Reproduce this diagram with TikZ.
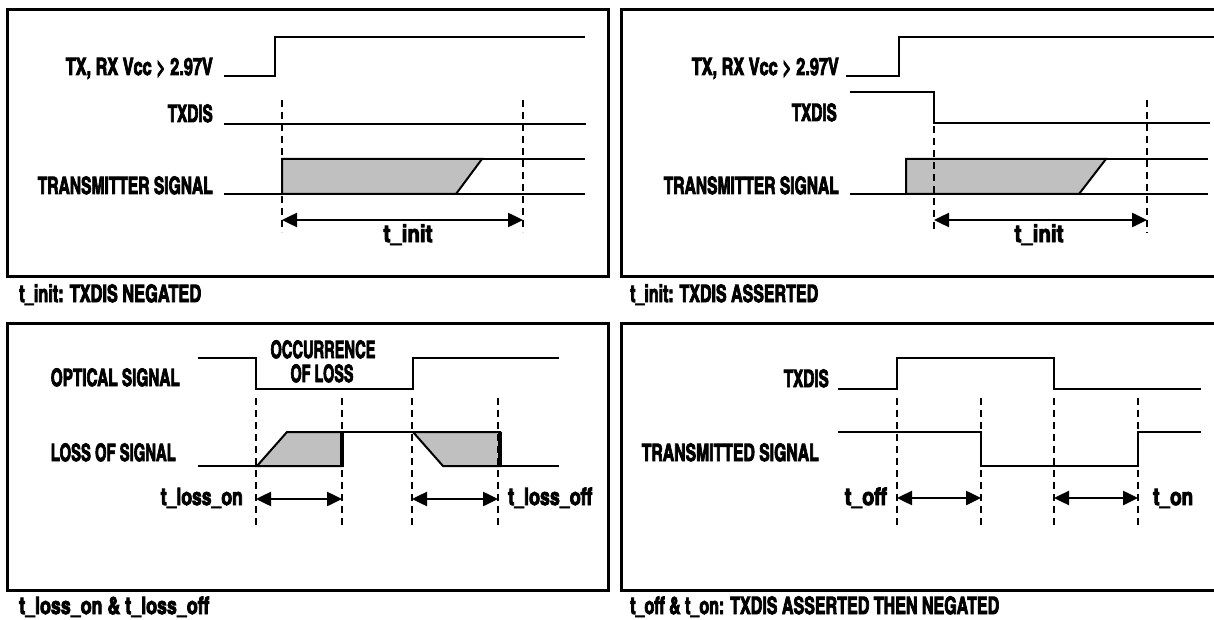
\documentclass[tikz,border=0pt]{standalone}
\usepackage{fontspec}
\usepackage{graphicx}
\newfontfamily\lbl{texgyreheroscn}[Extension=.otf, UprightFont=*-bold, BoldFont=*-bold, FakeBold=3.5]
\newcommand\fw[2]{\resizebox{#1pt}{\height}{#2}}
\usetikzlibrary{arrows.meta}
\definecolor{shade}{HTML}{C0C0C0}
\tikzset{
  frame/.style={line width=3pt},
  sig/.style={line width=2pt, line join=miter},
  dash line/.style={line width=1.6pt, dash pattern=on 7pt off 5pt},
  meas/.style={line width=2.5pt, {Triangle[length=15pt,width=14pt]}-{Triangle[length=15pt,width=14pt]}},
  region/.style={fill=shade, draw, line width=2pt, line join=miter},
  thickv/.style={line width=3.5pt},
  txt/.style={inner sep=0pt, font=\lbl\fontsize{24}{28}\selectfont},
}
\begin{document}
\begin{tikzpicture}[x=1pt,y=-1pt]
\useasboundingbox (0,0) rectangle (1214,620);
% frames
\draw[frame] (7,10) rectangle (608,276);
\draw[frame] (621,10) rectangle (1222,276);
\draw[frame] (7,323) rectangle (608,590);
\draw[frame] (621,323) rectangle (1222,590);

% ---------- top left ----------
\node[txt, anchor=base east] (tlvcc) at (213,75) {\fw{147}{TX, RX Vcc > 2.97V}};
\node[txt, anchor=base east] (tltx) at (213,122) {\fw{45}{TXDIS}};
\node[txt, anchor=base east] (tlts) at (213,194) {\fw{175}{TRANSMITTER SIGNAL}};
\draw[sig] (224,76) -- (275,76) -- (275,37) -- (585,37);
\draw[sig] (224,124) -- (586,124);
\draw[region] (282,194) -- (282,159) -- (482,159) -- (456,194) -- cycle;
\draw[sig] (224,194) -- (585,194);
\draw[sig] (482,159) -- (585,159);
\coordinate (tla) at (282,220);
\coordinate (tlb) at (523,220);
\draw[dash line] (282,100) -- (282,232);
\draw[dash line] (523,100) -- (523,232);
\draw[meas] (tla) -- (tlb);
\node[txt, anchor=base] (tlinit) at (408,242) {\fw{49}{t\_init}};
\node[txt, anchor=base west] (tlcap) at (19,302) {\fw{182}{t\_init: TXDIS NEGATED}};

% ---------- top right ----------
\node[txt, anchor=base east] (trvcc) at (839,75) {\fw{147}{TX, RX Vcc > 2.97V}};
\node[txt, anchor=base east] (trtx) at (837,121) {\fw{45}{TXDIS}};
\node[txt, anchor=base east] (trts) at (839,194) {\fw{175}{TRANSMITTER SIGNAL}};
\draw[sig] (846,76) -- (899,76) -- (899,37) -- (1214,37);
\draw[sig] (850,92) -- (934,92) -- (934,123) -- (1210,123);
\draw[region] (906,194) -- (906,159) -- (1106,159) -- (1079,194) -- cycle;
\draw[sig] (850,194) -- (1208,194);
\draw[sig] (1106,159) -- (1208,159);
\coordinate (tra) at (934,220);
\coordinate (trb) at (1147,220);
\draw[dash line] (934,126) -- (934,233);
\draw[dash line] (1147,100) -- (1147,233);
\draw[meas] (tra) -- (trb);
\node[txt, anchor=base] (trinit) at (1039,242) {\fw{49}{t\_init}};
\node[txt, anchor=base west] (trcap) at (630,302) {\fw{188}{t\_init: TXDIS ASSERTED}};

% ---------- bottom left ----------
\node[txt, anchor=base east] (blos) at (180,386) {\fw{129}{OPTICAL SIGNAL}};
\node[txt, anchor=base east] (blls) at (176,461) {\fw{125}{LOSS OF SIGNAL}};
\node[txt, anchor=base] (blocc1) at (323,358) {\fw{105}{OCCURRENCE}};
\node[txt, anchor=base] (blocc2) at (322,382) {\fw{63}{OF LOSS}};
\draw[sig] (198,358) -- (256,358) -- (256,389) -- (413,389) -- (413,358) -- (559,358);
\draw[region] (257,466) -- (287,432) -- (342,432) -- (342,466) -- cycle;
\draw[region] (413,432) -- (500,432) -- (500,466) -- (443,466) -- cycle;
\draw[sig] (198,466) -- (342,466);
\draw[sig] (287,432) -- (413,432);
\draw[sig] (443,466) -- (559,466);
\draw[thickv] (342,432) -- (342,467);
\draw[thickv] (500,432) -- (500,467);
\foreach \xx in {256,342,412,498} \draw[dash line] (\xx,398) -- (\xx,529);
\coordinate (bla1) at (256,499);
\coordinate (blb1) at (342,499);
\coordinate (bla2) at (412,499);
\coordinate (blb2) at (498,499);
\draw[meas] (bla1) -- (blb1);
\draw[meas] (bla2) -- (blb2);
\node[txt, anchor=base east] (blon) at (243,505) {\fw{82}{t\_loss\_on}};
\node[txt, anchor=base west] (bloff) at (508,505) {\fw{84}{t\_loss\_off}};
\node[txt, anchor=base west] (blcap) at (19,614) {\fw{190}{t\_loss\_on \& t\_loss\_off}};

% ---------- bottom right ----------
\node[txt, anchor=base east] (brtx) at (829,387) {\fw{45}{TXDIS}};
\node[txt, anchor=base east] (brts) at (819,461) {\fw{177}{TRANSMITTED SIGNAL}};
\draw[sig] (838,389) -- (897,389) -- (897,358) -- (1054,358) -- (1054,389) -- (1201,389);
\draw[sig] (838,432) -- (981,432) -- (981,466) -- (1138,466) -- (1138,432) -- (1201,432);
\foreach \xx in {897,981,1054,1138} \draw[dash line] (\xx,398) -- (\xx,529);
\coordinate (bra1) at (897,498);
\coordinate (brb1) at (981,498);
\coordinate (bra2) at (1054,498);
\coordinate (brb2) at (1138,498);
\draw[meas] (bra1) -- (brb1);
\draw[meas] (bra2) -- (brb2);
\node[txt, anchor=base east] (broff) at (887,505) {\fw{42}{t\_off}};
\node[txt, anchor=base west] (bron) at (1153,505) {\fw{40}{t\_on}};
\node[txt, anchor=base west] (brcap) at (630,614) {\fw{369}{t\_off \& t\_on: TXDIS ASSERTED THEN NEGATED}};
\end{tikzpicture}
\end{document}
